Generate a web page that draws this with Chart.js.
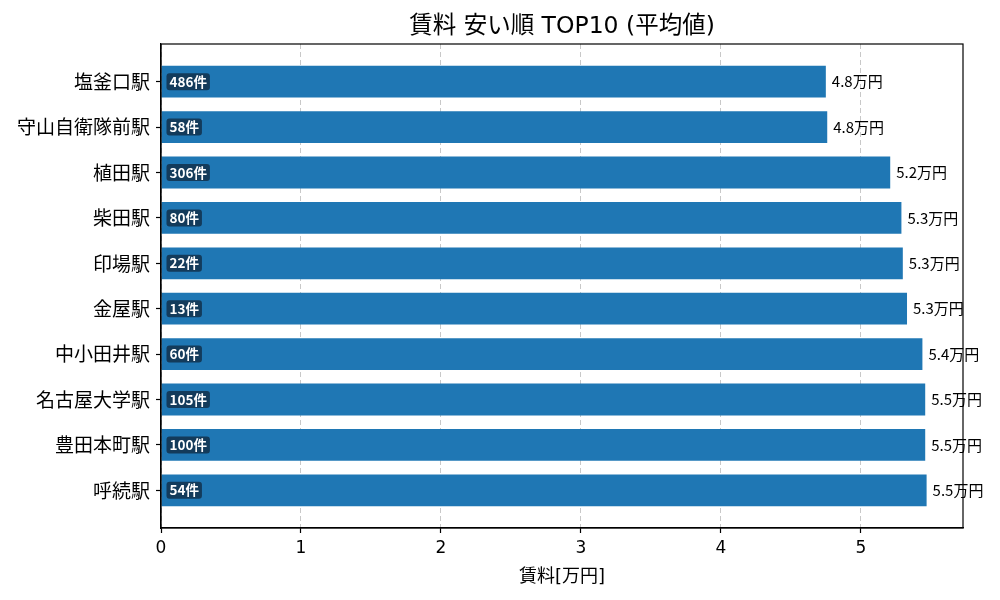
<!DOCTYPE html>
<html>
<head>
<meta charset="utf-8">
<script src="https://cdn.jsdelivr.net/npm/chart.js@4.4.0/dist/chart.umd.min.js"></script>
<style>
html,body{margin:0;padding:0;background:#fff;}
#wrap{width:1000px;height:600px;}
</style>
</head>
<body>
<div id="wrap"><canvas id="c" width="1000" height="600"></canvas></div>
<script>
const stations = ["塩釜口駅","守山自衛隊前駅","植田駅","柴田駅","印場駅","金屋駅","中小田井駅","名古屋大学駅","豊田本町駅","呼続駅"];
const rents = [4.75, 4.76, 5.21, 5.29, 5.30, 5.33, 5.44, 5.46, 5.46, 5.47];
const counts = [486, 58, 306, 80, 22, 13, 60, 105, 100, 54];
const xTicks = [0, 1, 2, 3, 4, 5];
const titleText = '賃料 安い順 TOP10 (平均値)';

const CJK = "'Noto Sans CJK JP', 'Noto Sans', sans-serif";
const MIX = "'DejaVu Sans', 'Noto Sans CJK JP', sans-serif";

const overlay = {
  id: 'overlay',
  afterDatasetsDraw(chart) {
    const ctx = chart.ctx;
    const xs = chart.scales.x, ys = chart.scales.y;
    ctx.save();
    ctx.font = "15px " + CJK;
    ctx.fillStyle = '#000';
    ctx.textBaseline = 'middle';
    ctx.textAlign = 'left';
    rents.forEach((v, i) => {
      const x = xs.getPixelForValue(v) + 6;
      const y = ys.getPixelForValue(i);
      ctx.fillText(v.toFixed(1) + '万円', x, y);
    });
    ctx.font = "bold 13.5px " + CJK;
    counts.forEach((n, i) => {
      const t = n + '件';
      const w = ctx.measureText(t).width;
      const x0 = xs.getPixelForValue(0) + 5.5;
      const yc = ys.getPixelForValue(i);
      const h = 17;
      ctx.fillStyle = '#133b5b';
      ctx.beginPath();
      ctx.roundRect(x0, yc - h / 2, w + 6, h, 3);
      ctx.fill();
      ctx.fillStyle = '#fff';
      ctx.fillText(t, x0 + 3, yc);
    });
    ctx.restore();
  },
  afterDraw(chart) {
    const a = chart.chartArea, ctx = chart.ctx;
    ctx.save();
    ctx.strokeStyle = '#000';
    ctx.lineWidth = 1.2;
    ctx.setLineDash([]);
    ctx.strokeRect(a.left, a.top, a.right - a.left, a.bottom - a.top);
    ctx.font = "23.5px " + MIX;
    ctx.fillStyle = '#000';
    ctx.textAlign = 'center';
    ctx.textBaseline = 'middle';
    ctx.fillText(titleText, (a.left + a.right) / 2, 27);
    ctx.restore();
  }
};

new Chart(document.getElementById('c'), {
  type: 'bar',
  data: {
    datasets: [{
      data: rents.map((v, i) => ({ x: v, y: i })),
      backgroundColor: '#1f77b4',
      borderWidth: 0,
      categoryPercentage: 1,
      barPercentage: 0.7
    }]
  },
  options: {
    indexAxis: 'y',
    responsive: false,
    animation: false,
    layout: { padding: { left: 0, right: 37, top: 44, bottom: 10 } },
    plugins: {
      legend: { display: false },
      tooltip: { enabled: false },
      title: { display: false }
    },
    scales: {
      x: {
        type: 'linear',
        min: 0,
        max: 5.73,
        afterBuildTicks(axis) { axis.ticks = xTicks.map(v => ({ value: v })); },
        afterFit(scale) { scale.height = 62; },
        ticks: { color: '#000', font: { family: MIX, size: 17 }, padding: 5 },
        grid: {
          display: true,
          drawTicks: true,
          color: '#c8c8c8',
          lineWidth: 1,
          tickLength: 5,
          tickColor: '#000',
          tickBorderDash: [],
          tickWidth: 1.2
        },
        border: { display: true, color: '#000', width: 1.2, dash: [5, 3] },
        title: {
          display: true,
          text: '賃料[万円]',
          color: '#000',
          font: { family: MIX, size: 18 },
          padding: { top: 0, bottom: 2 }
        }
      },
      y: {
        type: 'linear',
        reverse: true,
        offset: false,
        bounds: 'data',
        min: -0.83,
        max: 9.83,
        afterBuildTicks(axis) { axis.ticks = stations.map((_, i) => ({ value: i })); },
        afterFit(scale) { scale.width = 161; },
        ticks: {
          color: '#000',
          font: { family: CJK, size: 19 },
          padding: 6,
          callback: (v) => stations[v]
        },
        grid: {
          display: true,
          drawTicks: true,
          offset: false,
          drawOnChartArea: false,
          tickLength: 5,
          tickColor: '#000',
          tickBorderDash: [],
          tickWidth: 1.2
        },
        border: { display: true, color: '#000', width: 1.2 }
      }
    }
  },
  plugins: [overlay]
});
</script>
</body>
</html>
